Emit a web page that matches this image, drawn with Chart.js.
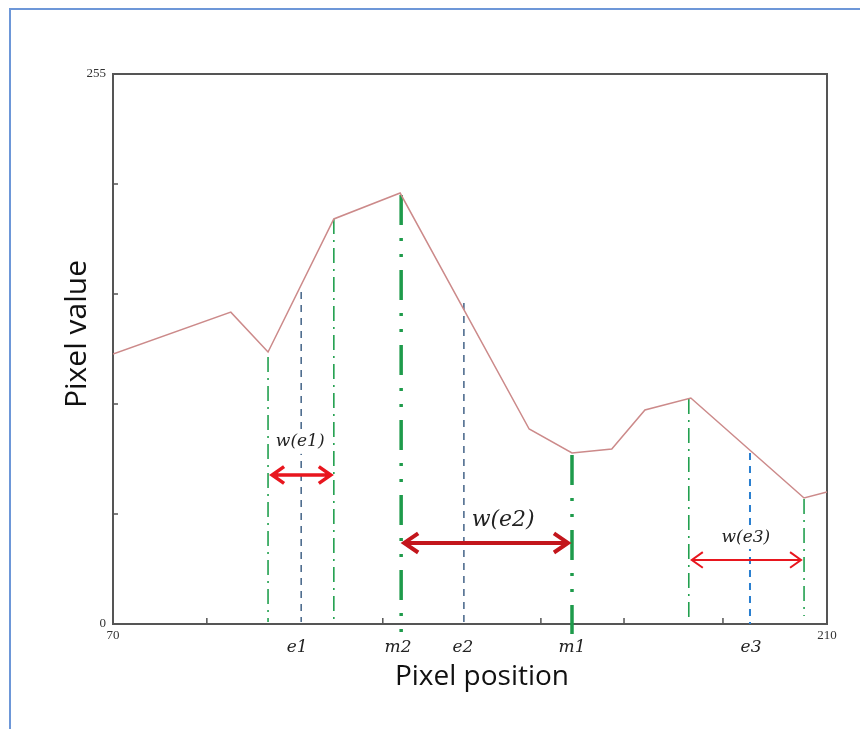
<!DOCTYPE html>
<html lang="en">
<head>
<meta charset="UTF-8">
<title>Pixel value profile</title>
<script src="https://cdn.jsdelivr.net/npm/chart.js"></script>
<style>
    html, body { margin: 0; padding: 0; background: #fff; }
    #wrap { position: relative; width: 860px; height: 729px; overflow: hidden; }
    #frame { position: absolute; left: 9px; top: 8px; width: 900px; height: 800px;
             border-top: 2px solid #6d97d8; border-left: 2px solid #6d97d8; }
    #grafico { position: absolute; left: 0; top: 0; }
</style>
</head>
<body>
<div id="wrap">
    <div id="frame"></div>
    <canvas id="grafico" width="860" height="729"></canvas>
</div>
<script>
// intensity profile along the scan line
const profileX = [70, 93.1, 100.4, 113.3, 126.3, 151.6, 160.0, 167.8, 174.3, 183.3, 205.5, 210];
const profileY = [125.2, 144.6, 126.1, 187.8, 199.8, 90.4, 79.3, 81.1, 99.2, 104.8, 58.4, 61.2];

// vertical markers (edges, centres, maxima)
const markerX      = [100.4, 106.9, 113.3, 126.5, 138.8, 160.0, 182.9, 194.9, 205.5];
const markerTop    = [123.8, 153.9, 187.8, 198.9, 148.8, 78.3, 104.3, 79.3, 58.0];
const markerBottom = [0.9, 0.9, 0.9, -4.6, 0.9, -4.6, 2.3, 0, 3.7];
const markerKind   = ['edge', 'centre', 'edge', 'max', 'centre', 'max', 'edge', 'centre3', 'edge'];

// x axis
const xTickMarks  = [88.4, 122.9, 153.9, 170.2, 189.6];
const xLabelNames = ['e1', 'm2', 'e2', 'm1', 'e3'];
const xLabelPos   = [106.1, 125.9, 138.6, 160.0, 195.1];

// width arrows
const arrowNames  = ['w(e1)', 'w(e2)', 'w(e3)'];
const arrowFrom   = [100.8, 126.7, 183.1];
const arrowTo     = [113.1, 159.6, 205.3];
const arrowY      = [69.1, 37.6, 29.7];
const arrowLabelX = [106.7, 146.5, 194.1];
const arrowLabelY = [84.4, 48.2, 40.3];

const kindStyle = {
    edge:    { color: '#22a04f', width: 1.6, dash: [15, 6, 2, 6] },
    centre:  { color: '#4f6d8f', width: 1.6, dash: [7, 6] },
    max:     { color: '#1e9b4b', width: 3.5, dash: [30, 13, 3, 13, 3, 13] },
    centre3: { color: '#2a7fd0', width: 2, dash: [7, 6] }
};
const arrowStyle = [
    { color: '#e8161e', width: 3.5, head: 14, font: 17 },
    { color: '#c3161c', width: 4, head: 16, font: 22 },
    { color: '#e8161e', width: 2, head: 13, font: 17 }
];

const datasets = [{
    data: profileX.map((x, i) => ({ x: x, y: profileY[i] })),
    borderColor: '#cc8a8a', borderWidth: 1.5, pointRadius: 0, tension: 0
}];
markerX.forEach((x, i) => {
    const st = kindStyle[markerKind[i]];
    datasets.push({
        data: [{ x: x, y: markerTop[i] }, { x: x, y: markerBottom[i] }],
        borderColor: st.color, borderWidth: st.width, borderDash: st.dash,
        pointRadius: 0, clip: false
    });
});

// frame + inward tick marks
const framePlugin = {
    id: 'frame',
    beforeDatasetsDraw(chart) {
        const { ctx, chartArea: a, scales } = chart;
        ctx.save();
        ctx.strokeStyle = '#555';
        ctx.lineWidth = 2;
        ctx.strokeRect(a.left, a.top, a.right - a.left, a.bottom - a.top);
        ctx.lineWidth = 1.5;
        ctx.beginPath();
        scales.y.ticks.forEach(t => {
            if (t.value === 0 || t.value === 255) return;
            const py = scales.y.getPixelForValue(t.value);
            ctx.moveTo(a.left, py); ctx.lineTo(a.left + 5, py);
        });
        xTickMarks.forEach(v => {
            const px = scales.x.getPixelForValue(v);
            ctx.moveTo(px, a.bottom); ctx.lineTo(px, a.bottom - 6);
        });
        ctx.stroke();
        ctx.restore();
    },
    afterDatasetsDraw(chart) {
        const { ctx, chartArea: a, scales } = chart;
        const sx = scales.x, sy = scales.y;
        ctx.save();
        // arrow labels with white boxes
        arrowNames.forEach((name, i) => {
            const st = arrowStyle[i];
            ctx.font = 'italic ' + st.font + 'px "DejaVu Serif"';
            const px = sx.getPixelForValue(arrowLabelX[i]);
            const py = sy.getPixelForValue(arrowLabelY[i]);
            const w = ctx.measureText(name).width;
            ctx.fillStyle = '#fff';
            ctx.fillRect(px - w / 2 - 3, py - st.font * 0.7, w + 6, st.font * 1.4);
            ctx.fillStyle = '#222';
            ctx.textAlign = 'center';
            ctx.textBaseline = 'middle';
            ctx.fillText(name, px, py);
        });
        // double-headed arrows
        arrowNames.forEach((name, i) => {
            const st = arrowStyle[i];
            const x1 = sx.getPixelForValue(arrowFrom[i]);
            const x2 = sx.getPixelForValue(arrowTo[i]);
            const py = sy.getPixelForValue(arrowY[i]);
            const h = st.head, hw = h * 0.6;
            ctx.strokeStyle = st.color;
            ctx.lineWidth = st.width;
            ctx.lineJoin = 'miter';
            ctx.beginPath();
            ctx.moveTo(x1 + 2, py); ctx.lineTo(x2 - 2, py);
            ctx.moveTo(x1 + h, py - hw); ctx.lineTo(x1 + 2, py); ctx.lineTo(x1 + h, py + hw);
            ctx.moveTo(x2 - h, py - hw); ctx.lineTo(x2 - 2, py); ctx.lineTo(x2 - h, py + hw);
            ctx.stroke();
        });
        // marker names under the axis
        ctx.font = 'italic 17px "DejaVu Serif"';
        ctx.fillStyle = '#222';
        ctx.textAlign = 'center';
        ctx.textBaseline = 'middle';
        xLabelNames.forEach((n, i) => {
            ctx.fillText(n, sx.getPixelForValue(xLabelPos[i]), a.bottom + 24);
        });
        // axis titles
        ctx.fillStyle = '#111';
        ctx.font = '28px "Open Sans"';
        ctx.fillText('Pixel position', (a.left + a.right) / 2 + 12, a.bottom + 53);
        ctx.translate(a.left - 36, (a.top + a.bottom) / 2 - 15);
        ctx.rotate(-Math.PI / 2);
        ctx.font = '30px "Open Sans"';
        ctx.fillText('Pixel value', 0, 0);
        ctx.restore();
    }
};

const ctx = document.getElementById('grafico').getContext('2d');
const chart = new Chart(ctx, {
    type: 'line',
    data: { datasets: datasets },
    options: {
        responsive: false,
        animation: false,
        layout: { padding: { left: 73, right: 33, top: 74, bottom: 75 } },
        plugins: { legend: { display: false }, tooltip: { enabled: false } },
        scales: {
            x: {
                type: 'linear', min: 70, max: 210,
                afterFit: s => { s.height = 30; },
                afterBuildTicks: s => { s.ticks = [70, ...xTickMarks, 210].map(v => ({ value: v })); },
                grid: { display: false, drawTicks: false },
                border: { display: false },
                ticks: {
                    autoSkip: false, maxRotation: 0, padding: 4,
                    color: '#333', font: { family: 'Liberation Serif', size: 13 },
                    callback: v => (v === 70 || v === 210) ? String(v) : ''
                }
            },
            y: {
                min: 0, max: 255,
                afterFit: s => { s.width = 40; },
                grid: { display: false, drawTicks: false },
                border: { display: false },
                ticks: {
                    stepSize: 51, padding: 7,
                    color: '#333', font: { family: 'Liberation Serif', size: 13 },
                    callback: v => (v === 0 || v === 255) ? String(v) : ''
                }
            }
        }
    },
    plugins: [framePlugin]
});
</script>
</body>
</html>
